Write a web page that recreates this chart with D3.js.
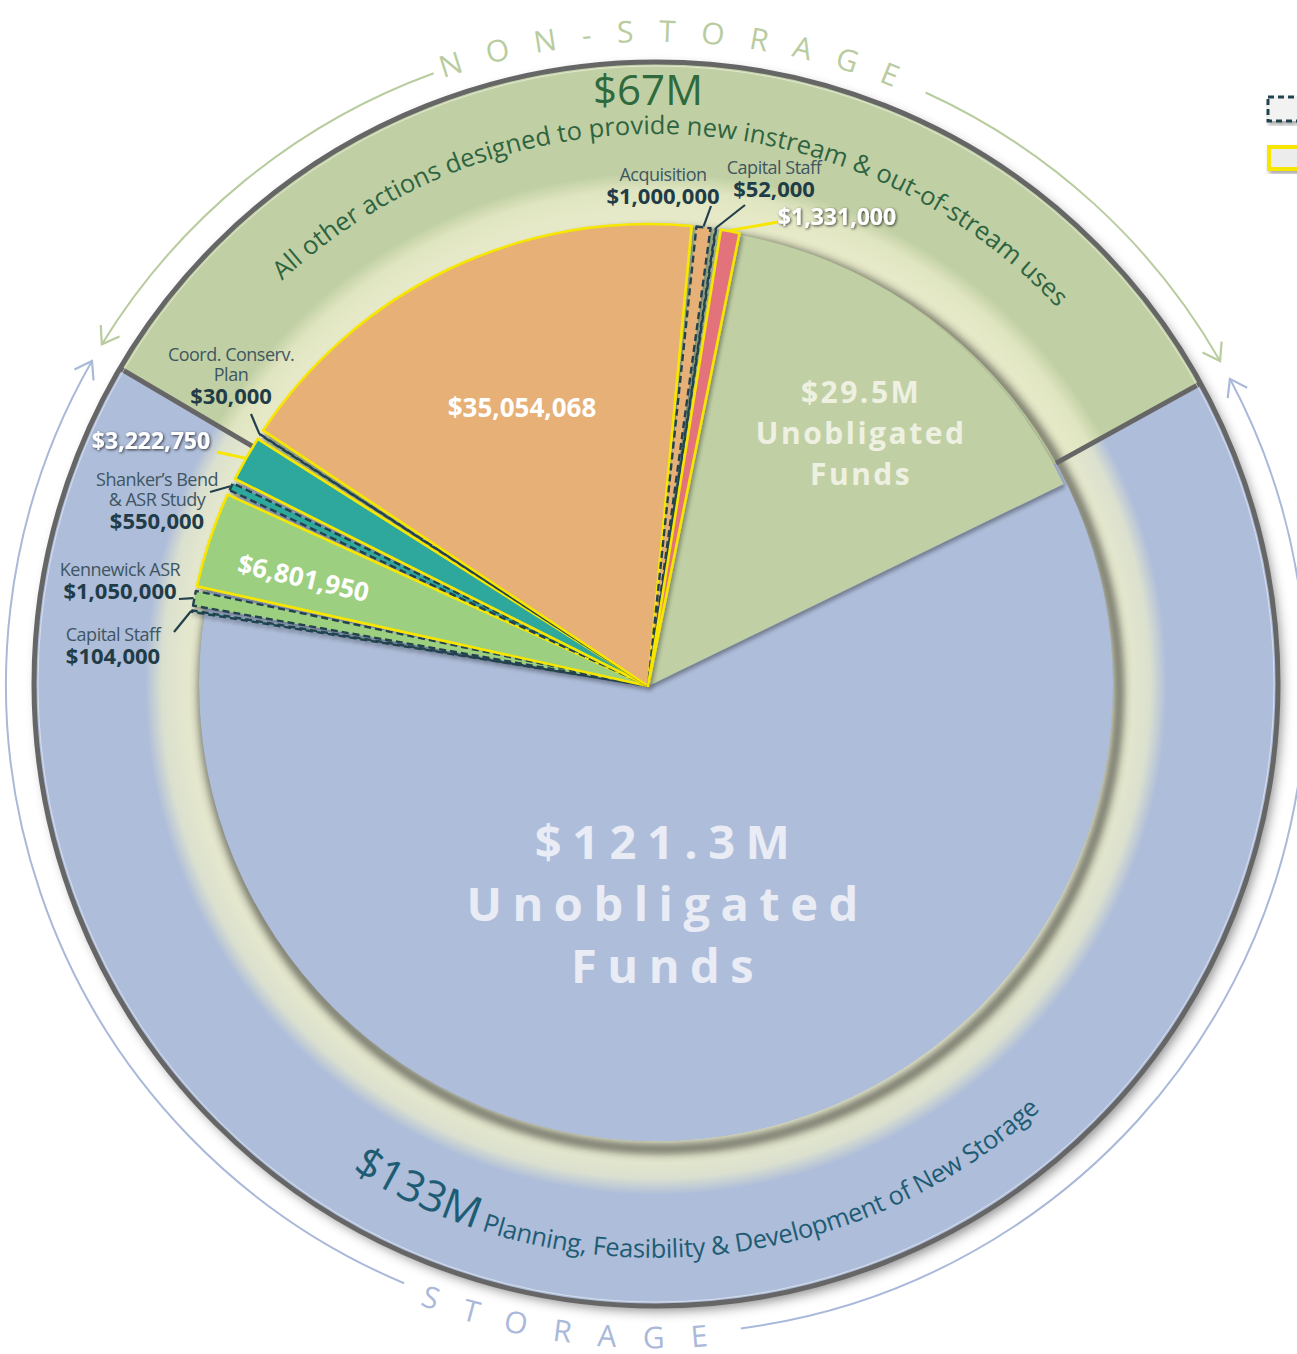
<!DOCTYPE html>
<html>
<head>
<meta charset="utf-8">
<script src="https://cdn.jsdelivr.net/npm/d3@7"></script>
<style>
  body { margin: 0; background: #fff; overflow: hidden; }
  svg { display: block; font-family: "Open Sans", sans-serif; }
</style>
</head>
<body>
<svg id="chart" width="1297" height="1354"></svg>
<script>
// outer ring: the two program areas, $M
var sectorNames = ["NON-STORAGE", "STORAGE"];
var sectorTotals = [67, 133];
var sectorCaptions = ["All other actions designed to provide new instream & out-of-stream uses",
                      "Planning, Feasibility & Development of New Storage"];

// inner pie, clockwise starting from the lowest storage item on the left
var itemNames = ["Capital Staff", "Kennewick ASR", "", "Shanker’s Bend|& ASR Study", "",
                 "Coord. Conserv.|Plan", "", "Acquisition", "Capital Staff", "",
                 "Unobligated|Funds", "Unobligated|Funds"];
var itemValues = [104000, 1050000, 6801950, 550000, 3222750,
                  30000, 35054068, 1000000, 52000, 1331000,
                  29500000, 121300000];
var itemStatus = ["proposed", "proposed", "funded", "proposed", "funded",
                  "proposed", "funded", "proposed", "proposed", "funded",
                  "unobligated", "unobligated"];
var itemSector = [1, 1, 1, 1, 1, 0, 0, 0, 0, 0, 0, 1];

// ---- styles / layout ----
var sectorColors = ["#c1d0a4", "#aebdda"];
var sectorArrowColors = ["#b9cc9f", "#aab9d9"];
var itemFills = ["#2ea79c", "#9dcf80", "#9dcf80", "#2ea79c", "#2ea79c",
                 "#e6b077", "#e6b077", "#e6b077", "#e6b077", "#e2737b", null, null];

var deg = Math.PI / 180;
var outerC = [656, 684], innerC = [648, 686];
var outerR = 622, glowIn = 457, glowOut = 511, sliceR = 462;
var slicePad = 0.6 * deg;

// text labels outside the slices (page coords); leader runs from slice edge to "end"
var outsideLabels = {
  0: {x: 113, y: 641, end: [174, 632]},
  1: {x: 120, y: 576, end: [179, 599]},
  3: {x: 157, y: 486, end: [210, 492]},
  4: {x: 151, y: 449, end: [217, 452], white: true},
  5: {x: 231, y: 361, end: [251, 414]},
  7: {x: 663, y: 181, end: [711, 206]},
  8: {x: 774, y: 174, end: [745, 205]},
  9: {x: 837, y: 225, end: [778, 222], white: true}
};

function polar(a, r) { return [r * Math.sin(a), -r * Math.cos(a)]; }
function arcD(r, a0, a1) {
  var p0 = polar(a0, r), p1 = polar(a1, r);
  var large = Math.abs(a1 - a0) > Math.PI ? 1 : 0;
  var sweep = a1 > a0 ? 1 : 0;
  return "M" + p0 + "A" + r + "," + r + " 0 " + large + "," + sweep + " " + p1;
}
var fmtMoney = d3.format("$,");
function fmtM(v) { return "$" + d3.format(".1f")(v / 1e6) + "M"; }
function mid(d) { return (d.startAngle + d.endAngle) / 2; }

var svg = d3.select("#chart");
var defs = svg.append("defs");

function shadow(id, dx, dy, sd, op) {
  defs.append("filter").attr("id", id)
      .attr("x", "-20%").attr("y", "-20%").attr("width", "140%").attr("height", "140%")
    .append("feDropShadow")
      .attr("dx", dx).attr("dy", dy).attr("stdDeviation", sd)
      .attr("flood-color", "#000").attr("flood-opacity", op);
}
shadow("shadowBig", 4, 5, 6, 0.45);
shadow("shadowSmall", 2, 3, 2, 0.35);
shadow("textShadow", 1, 1, 1.6, 0.75);
defs.append("filter").attr("id", "blur")
    .attr("x", "-10%").attr("y", "-10%").attr("width", "120%").attr("height", "120%")
  .append("feGaussianBlur").attr("stdDeviation", 4);

var glow = defs.append("radialGradient").attr("id", "glow")
    .attr("gradientUnits", "userSpaceOnUse").attr("cx", 0).attr("cy", 0).attr("r", glowOut);
[[glowIn / glowOut, "#eaeccb", 0.9],
 [472 / glowOut, "#eaeccb", 0.9],
 [494 / glowOut, "#eaeccb", 0.75],
 [1, "#eaeccb", 0]].forEach(function(s) {
  glow.append("stop").attr("offset", s[0]).attr("stop-color", s[1]).attr("stop-opacity", s[2]);
});
var ringD = d3.arc().innerRadius(glowIn).outerRadius(glowOut)({startAngle: 0, endAngle: 2 * Math.PI});
defs.append("clipPath").attr("id", "ringClip").append("path").attr("d", ringD);

sectorArrowColors.forEach(function(c, i) {
  defs.append("marker").attr("id", "arrow" + i)
      .attr("viewBox", "-20 -12 24 24").attr("refX", 0).attr("refY", 0)
      .attr("markerWidth", 24).attr("markerHeight", 24)
      .attr("markerUnits", "userSpaceOnUse").attr("orient", "auto")
    .append("path")
      .attr("d", "M-16,-11L0,0L-16,11")
      .attr("fill", "none").attr("stroke", c).attr("stroke-width", 2.2);
});

// ---- legend (cut by the page edge) ----
svg.append("rect").attr("x", 1268).attr("y", 97).attr("width", 40).attr("height", 24)
   .attr("fill", "#f2f2f2").attr("stroke", "#24424e").attr("stroke-width", 3)
   .attr("stroke-dasharray", "6,4").attr("filter", "url(#shadowSmall)");
svg.append("rect").attr("x", 1269).attr("y", 147).attr("width", 40).attr("height", 22)
   .attr("fill", "#ececec").attr("stroke", "#f7e600").attr("stroke-width", 4)
   .attr("filter", "url(#shadowSmall)");

// ---- arrows and spaced headings around the ring ----
var gA = svg.append("g").attr("transform", "translate(" + outerC + ")");
var arrowArcs = [
  {s: 0, a0: -20, a1: -58.5}, {s: 0, a0: 24.5, a1: 60.2},
  {s: 1, a0: 202.8, a1: 299.8}, {s: 1, a0: 172.5, a1: 62}
];
gA.selectAll("path.arrow").data(arrowArcs).enter().append("path")
  .attr("class", "arrow")
  .attr("d", function(d) { return arcD(650, d.a0 * deg, d.a1 * deg); })
  .attr("fill", "none")
  .attr("stroke", function(d) { return sectorArrowColors[d.s]; })
  .attr("stroke-width", 2)
  .attr("marker-end", function(d) { return "url(#arrow" + d.s + ")"; });

defs.append("path").attr("id", "headTop").attr("d", arcD(642, -58.7 * deg, 63.3 * deg));
defs.append("path").attr("id", "headBot").attr("d", arcD(664, 277 * deg, 97 * deg));
gA.selectAll("text.heading").data(sectorNames).enter().append("text")
  .attr("class", "heading")
  .attr("font-size", 30)
  .attr("letter-spacing", function(d, i) { return i === 0 ? 25 : 27; })
  .attr("fill", function(d, i) { return sectorArrowColors[i]; })
  .append("textPath")
  .attr("href", function(d, i) { return i === 0 ? "#headTop" : "#headBot"; })
  .attr("startOffset", "50%").attr("text-anchor", "middle")
  .text(function(d) { return d; });

// ---- outer ring base ----
var outerPie = d3.pie().sort(null).startAngle(-59.5 * deg).endAngle(300.5 * deg);
var outerArcs = outerPie(sectorTotals);
var arcOuter = d3.arc().innerRadius(0).outerRadius(outerR);

var gO = svg.append("g").attr("transform", "translate(" + outerC + ")");
gO.append("circle").attr("r", outerR).attr("fill", sectorColors[1]).attr("filter", "url(#shadowBig)");
gO.selectAll("path.sector").data(outerArcs).enter().append("path")
  .attr("class", "sector")
  .attr("d", arcOuter)
  .attr("fill", function(d, i) { return sectorColors[i]; });

// ---- inner pie: angles from d3.pie, turned so the big orange slice sits where it does in the print ----
var innerPie = d3.pie().sort(null).padAngle(slicePad);
var tmp = innerPie.startAngle(0).endAngle(2 * Math.PI)(itemValues);
var innerStart = -25.5 * deg - mid(tmp[6]);
var innerArcs = innerPie.startAngle(innerStart).endAngle(innerStart + 2 * Math.PI)(itemValues);
var arcInner = d3.arc().innerRadius(0).outerRadius(sliceR).padAngle(0);
function visible(d) {
  return {startAngle: d.startAngle + d.padAngle / 2, endAngle: d.endAngle - d.padAngle / 2};
}

var gU = svg.append("g").attr("transform", "translate(" + innerC + ")");
[11, 10].forEach(function(i) {
  gU.append("path").attr("d", arcInner(visible(innerArcs[i])))
    .attr("fill", sectorColors[itemSector[i]])
    .attr("filter", i === 10 ? "url(#shadowSmall)" : null);
});

// ---- glow ring with an inner shadow lit from the upper left ----
var gG = svg.append("g").attr("transform", "translate(" + outerC + ")")
  .append("g").attr("clip-path", "url(#ringClip)");
gG.append("path").attr("d", ringD).attr("fill", "url(#glow)");
gG.append("circle").attr("cx", 5).attr("cy", 7).attr("r", glowIn + 1)
  .attr("fill", "none").attr("stroke", "#3a3a36").attr("stroke-width", 9)
  .attr("opacity", 0.75).attr("filter", "url(#blur)");

// ---- dividers, outline and captions ----
var gT = svg.append("g").attr("transform", "translate(" + outerC + ")");
gT.selectAll("line").data(outerArcs).enter().append("line")
  .attr("x1", function(d) { return polar(d.startAngle, glowIn)[0]; })
  .attr("y1", function(d) { return polar(d.startAngle, glowIn)[1]; })
  .attr("x2", function(d) { return polar(d.startAngle, outerR)[0]; })
  .attr("y2", function(d) { return polar(d.startAngle, outerR)[1]; })
  .attr("stroke", "#666").attr("stroke-width", 5);
gT.append("circle").attr("r", outerR).attr("fill", "none")
  .attr("stroke", "#666").attr("stroke-width", 5);
gT.append("circle").attr("r", outerR - 4).attr("fill", "none")
  .attr("stroke", "#fff").attr("stroke-width", 1).attr("opacity", 0.5);

defs.append("path").attr("id", "capTop").attr("d", arcD(550, -88 * deg, 92 * deg));
defs.append("path").attr("id", "capBot").attr("d", arcD(574, 265 * deg, 85 * deg));
gT.append("text").attr("font-size", 25.5).attr("fill", "#2e6441")
  .append("textPath").attr("href", "#capTop").attr("startOffset", "50%").attr("text-anchor", "middle")
  .text(sectorCaptions[0]);
var bot = gT.append("text").attr("fill", "#1e5c73")
  .append("textPath").attr("href", "#capBot").attr("startOffset", "50%").attr("text-anchor", "middle");
bot.append("tspan").attr("font-size", 43).text("$" + sectorTotals[1] + "M");
bot.append("tspan").attr("font-size", 25.5).attr("letter-spacing", -0.3).text(" " + sectorCaptions[1]);

gT.append("text").attr("x", 648 - outerC[0]).attr("y", 105 - outerC[1])
  .attr("text-anchor", "middle").attr("font-size", 42).attr("fill", "#2f6a3e")
  .text("$" + sectorTotals[0] + "M");

// ---- labelled slices ----
var gS = svg.append("g").attr("transform", "translate(" + innerC + ")").attr("filter", "url(#shadowSmall)");
innerArcs.forEach(function(d, i) {
  if (itemStatus[i] === "unobligated") return;
  var p = gS.append("path").attr("d", arcInner(visible(d)))
    .attr("fill", itemFills[i])
    .attr("stroke-linejoin", "round");
  if (itemStatus[i] === "funded") {
    p.attr("stroke", "#f7e600").attr("stroke-width", 2.6);
  } else {
    p.attr("stroke", "#24424e").attr("stroke-width", 2.4).attr("stroke-dasharray", "7,4");
  }
});

// ---- labels outside slices ----
var gL = svg.append("g");
Object.keys(outsideLabels).forEach(function(k) {
  var i = +k, L = outsideLabels[k], d = innerArcs[i];
  var s = polar(mid(d), sliceR + 1);
  gL.append("line")
    .attr("x1", innerC[0] + s[0]).attr("y1", innerC[1] + s[1])
    .attr("x2", L.end[0]).attr("y2", L.end[1])
    .attr("stroke", L.white ? "#f7e600" : "#22404b").attr("stroke-width", L.white ? 3 : 2.2);
  var t = gL.append("text").attr("text-anchor", "middle");
  if (L.white) {
    t.attr("x", L.x).attr("y", L.y).attr("font-size", 23).attr("font-weight", 700)
      .attr("fill", "#fff").attr("filter", "url(#textShadow)")
      .text(fmtMoney(itemValues[i]));
    return;
  }
  var lines = itemNames[i].split("|");
  lines.forEach(function(s, j) {
    t.append("tspan").attr("x", L.x).attr("y", L.y + j * 20)
      .attr("font-size", 18).attr("letter-spacing", -0.5).attr("fill", "#3e5662").text(s);
  });
  t.append("tspan").attr("x", L.x).attr("y", L.y + (lines.length - 1) * 20 + 23)
    .attr("font-size", 22).attr("font-weight", 700).attr("fill", "#213c47")
    .text(fmtMoney(itemValues[i]));
});

// ---- labels inside slices ----
var gIn = svg.append("g").attr("transform", "translate(" + innerC + ")");
var pO = polar(mid(innerArcs[6]) + 1.1 * deg, 305);
gIn.append("text").attr("x", pO[0]).attr("y", pO[1]).attr("dy", "0.35em")
  .attr("text-anchor", "middle").attr("font-size", 26).attr("font-weight", 700)
  .attr("fill", "#fff").text(fmtMoney(itemValues[6]));

var a6 = mid(innerArcs[2]), p6 = polar(a6 - 1.1 * deg, 361);
gIn.append("text")
  .attr("transform", "translate(" + p6 + ")rotate(" + (a6 / deg + 84.5) + ")")
  .attr("dy", "0.35em").attr("text-anchor", "middle")
  .attr("font-size", 26).attr("font-weight", 700).attr("fill", "#fff")
  .text(fmtMoney(itemValues[2]));

[{i: 10, da: 1.9, r: 330, fs: 30, ls: 2.5, gap: 41, col: "#eef0e2"},
 {i: 11, da: 4.6, r: 219, fs: 47, ls: 10.5, gap: 62, col: "#e9ecf4"}].forEach(function(o) {
  var p = polar(mid(innerArcs[o.i]) + o.da * deg, o.r);
  var lines = [fmtM(itemValues[o.i])].concat(itemNames[o.i].split("|"));
  var t = gIn.append("text").attr("text-anchor", "middle").attr("font-weight", 700)
    .attr("font-size", o.fs).attr("letter-spacing", o.ls).attr("fill", o.col);
  lines.forEach(function(s, j) {
    t.append("tspan").attr("x", p[0] + o.ls / 2)
      .attr("y", p[1] + (j - 1) * o.gap).attr("dy", "0.35em").text(s);
  });
});
</script>
</body>
</html>
